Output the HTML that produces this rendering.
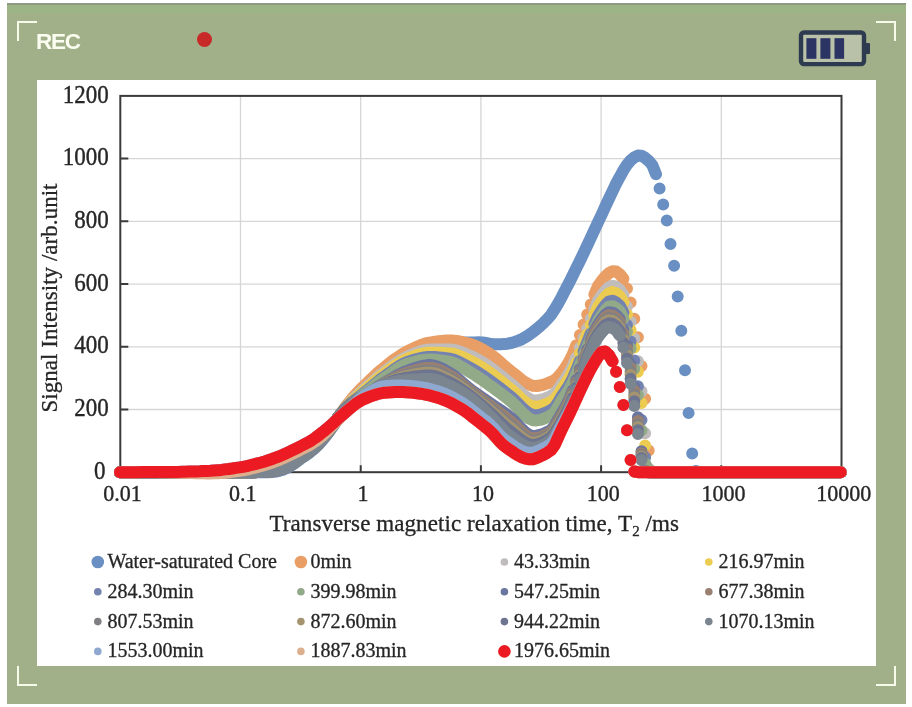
<!DOCTYPE html>
<html><head><meta charset="utf-8"><style>
html,body{margin:0;padding:0;background:#fff;}
body{width:912px;height:707px;position:relative;overflow:hidden;font-family:"Liberation Serif",serif;}
.frame{position:absolute;left:7px;top:3px;width:899px;height:701px;background:#a1b088;}
.chart{position:absolute;left:37px;top:80px;width:839px;height:586px;background:#fff;}
.br{position:absolute;width:18px;height:18px;box-sizing:content-box;border:0 solid #f7fbea;}
.rec{position:absolute;left:36px;top:28.5px;font-family:"Liberation Sans",sans-serif;font-weight:bold;font-size:22.5px;color:#fbfdf0;letter-spacing:-1.3px;}
.dot{position:absolute;left:197px;top:32px;width:15px;height:15px;border-radius:50%;background:#c82a2a;}
svg.plot{position:absolute;left:0;top:0;}
.tl{font-family:"Liberation Serif",serif;font-size:22px;fill:#262626;stroke:#262626;stroke-width:0.35px;}
.tly{font-family:"Liberation Serif",serif;font-size:23px;fill:#262626;stroke:#262626;stroke-width:0.35px;}
.at{font-family:"Liberation Serif",serif;font-size:23px;fill:#262626;stroke:#262626;stroke-width:0.3px;}
.sub{font-size:15px;}
.lg{font-family:"Liberation Serif",serif;font-size:20px;fill:#262626;stroke:#262626;stroke-width:0.3px;}
</style></head><body>
<div class="frame"></div>
<div style="position:absolute;left:7px;top:3px;width:899px;height:1.5px;background:#8f9a80;"></div>
<div style="position:absolute;left:7px;top:5px;width:899px;height:10px;background:linear-gradient(#9cb386,#9db486 70%,#a1b088);"></div>
<div class="chart"></div>
<div class="br" style="left:17px;top:21px;border-left-width:2px;border-top-width:2px;"></div>
<div class="br" style="left:876px;top:21px;border-right-width:2px;border-top-width:2px;"></div>
<div class="br" style="left:17px;top:666px;border-left-width:2px;border-bottom-width:2px;"></div>
<div class="br" style="left:876px;top:666px;border-right-width:2px;border-bottom-width:2px;"></div>
<div class="rec">REC</div>
<div class="dot"></div>
<svg style="position:absolute;left:796px;top:28px" width="80" height="42" viewBox="0 0 80 42">
<rect x="5" y="4.5" width="63" height="31.6" rx="3" fill="#b9c2a8" stroke="#2d3a4f" stroke-width="4.4"/>
<rect x="10.4" y="10.2" width="10" height="20.6" fill="#2b3462"/>
<rect x="24.4" y="10.2" width="10" height="20.6" fill="#2b3462"/>
<rect x="38.5" y="10.2" width="9.6" height="20.6" fill="#2b3462"/>
<rect x="69" y="15" width="5" height="11" rx="1" fill="#2d3a4f"/>
</svg>
<svg class="plot" width="912" height="707" viewBox="0 0 912 707"><path d="M240.5 95.9V472.2M360.7 95.9V472.2M480.9 95.9V472.2M601.1 95.9V472.2M721.3 95.9V472.2M120.3 409.5H841.5M120.3 346.8H841.5M120.3 284.1H841.5M120.3 221.3H841.5M120.3 158.6H841.5" stroke="#d6d6d6" stroke-width="1.3" fill="none"/><rect x="120.3" y="95.9" width="721.2" height="376.3" fill="none" stroke="#3a3a3a" stroke-width="2"/><path d="M120.3 409.5h8M120.3 346.8h8M120.3 284.1h8M120.3 221.3h8M120.3 158.6h8M240.5 472.2v-7M360.7 472.2v-7M480.9 472.2v-7M601.1 472.2v-7M721.3 472.2v-7" stroke="#3a3a3a" stroke-width="2" fill="none"/><path d="M120.0 472.2L123.6 472.2L127.2 472.2L130.9 472.2L134.5 472.2L138.1 472.2L141.7 472.2L145.4 472.2L149.0 472.2L152.6 472.2L156.2 472.2L159.8 472.2L163.5 472.2L167.1 472.2L170.7 472.2L174.3 472.2L177.9 472.2L181.6 472.2L185.2 472.2L188.8 472.2L192.4 472.2L196.1 472.2L199.7 472.2L203.3 472.2L206.9 472.2L210.5 472.2L214.2 472.2L217.8 472.2L221.4 472.2L225.0 472.2L228.6 472.2L232.3 472.2L235.9 472.2L239.5 472.2L243.1 472.2L246.8 472.2L250.4 472.2L254.0 472.2L257.6 472.2L261.2 472.2L264.9 472.2L268.5 472.2L272.1 472.1L275.7 471.6L279.3 470.8L283.0 469.7L286.6 468.1L290.2 466.2L293.8 463.8L297.5 461.1L301.1 458.5L304.7 456.0L308.3 453.5L311.9 450.6L315.6 447.4L319.2 443.9L322.8 439.8L326.4 435.3L330.0 430.4L333.7 425.3L337.3 419.9L340.9 414.7L344.5 409.6L348.2 404.8L351.8 400.5L355.4 396.5L359.0 392.9L362.6 389.3L366.3 385.8L369.9 382.3L373.5 378.9L377.1 375.6L380.7 372.4L384.4 369.3L388.0 366.4L391.6 363.5L395.2 360.7L398.9 358.0L402.5 355.6L406.1 353.5L409.7 351.6L413.3 349.8L417.0 348.2L420.6 346.6L424.2 345.4L427.8 344.4L431.4 343.8L435.1 343.2L438.7 342.8L442.3 342.4L445.9 342.1L449.6 342.0L453.2 342.1L456.8 342.2L460.4 342.4L464.0 342.5L467.7 342.5L471.3 342.4L474.9 342.4L478.5 342.3L482.2 342.4L485.8 343.0L489.4 343.7L493.0 344.2L496.6 344.3L500.3 344.2L503.9 344.1L507.5 343.7L511.1 343.0L514.7 341.9L518.4 340.6L522.0 339.1L525.6 337.1L529.2 334.7L532.9 332.0L536.5 329.1L540.1 326.1L543.7 322.8L547.3 319.1L551.0 314.8L554.6 309.4L558.2 303.4L561.8 296.8L565.4 289.8L569.1 282.7L572.7 275.5L576.3 268.2L579.9 260.8L583.6 253.2L587.2 245.4L590.8 237.7L594.4 230.0L598.0 222.3L601.7 214.5L605.3 206.6L608.9 198.9L612.5 191.2L616.1 183.7L619.8 176.9L623.4 170.3L627.0 164.8L630.6 160.4L634.3 157.4L637.9 155.6L641.5 155.7L645.1 157.8L648.7 160.8L652.4 165.3L656.0 174.2M659.6 188.6h0M663.2 204.5h0M666.8 220.6h0M670.5 244.1h0M674.1 265.8h0M677.7 296.6h0M681.3 330.7h0M685.0 370.2h0M688.6 413.0h0M692.2 453.6h0M695.8 471.1L699.4 472.2L703.1 472.2L706.7 472.2L710.3 472.2L713.9 472.2L717.5 472.2L721.2 472.2L724.8 472.2L728.4 472.2L732.0 472.2L735.7 472.2L739.3 472.2L742.9 472.2L746.5 472.2L750.1 472.2L753.8 472.2L757.4 472.2L761.0 472.2L764.6 472.2L768.2 472.2L771.9 472.2L775.5 472.2L779.1 472.2L782.7 472.2L786.4 472.2L790.0 472.2L793.6 472.2L797.2 472.2L800.8 472.2L804.5 472.2L808.1 472.2L811.7 472.2L815.3 472.2L818.9 472.2L822.6 472.2L826.2 472.2L829.8 472.2L833.4 472.2L837.1 472.2L840.7 472.2" stroke="#6a8fc2" stroke-width="12.0" stroke-linecap="round" stroke-linejoin="round" fill="none"/><path d="M120.0 472.2L123.6 472.2L127.2 472.2L130.9 472.2L134.5 472.2L138.1 472.2L141.7 472.2L145.4 472.2L149.0 472.2L152.6 472.2L156.2 472.2L159.8 472.2L163.5 472.2L167.1 472.2L170.7 472.2L174.3 472.2L177.9 472.2L181.6 472.2L185.2 472.2L188.8 472.2L192.4 472.2L196.1 472.2L199.7 472.2L203.3 472.2L206.9 472.2L210.5 472.2L214.2 472.2L217.8 472.2L221.4 472.2L225.0 472.2L228.6 472.2L232.3 472.2L235.9 472.2L239.5 472.2L243.1 472.2L246.8 472.2L250.4 472.2L254.0 472.2L257.6 472.1L261.2 472.0L264.9 471.8L268.5 471.6L272.1 471.3L275.7 470.6L279.3 469.8L283.0 468.6L286.6 467.1L290.2 465.2L293.8 462.8L297.5 460.1L301.1 457.5L304.7 455.0L308.3 452.5L311.9 449.6L315.6 446.4L319.2 442.9L322.8 438.8L326.4 434.3L330.0 429.4L333.7 424.3L337.3 419.0L340.9 413.7L344.5 408.4L348.2 403.4L351.8 398.9L355.4 394.8L359.0 391.0L362.6 387.3L366.3 383.8L369.9 380.3L373.5 376.8L377.1 373.5L380.7 370.3L384.4 367.3L388.0 364.4L391.6 361.6L395.2 358.9L398.9 356.4L402.5 354.0L406.1 352.0L409.7 350.1L413.3 348.4L417.0 346.7L420.6 345.2L424.2 343.9L427.8 342.9L431.4 342.3L435.1 341.7L438.7 341.3L442.3 340.9L445.9 340.6L449.6 340.5L453.2 340.6L456.8 341.0L460.4 341.7L464.0 342.5L467.7 343.4L471.3 344.4L474.9 345.7L478.5 347.3L482.2 349.3L485.8 351.4L489.4 353.6L493.0 356.1L496.6 359.0L500.3 362.3L503.9 365.5L507.5 368.6L511.1 371.3L514.7 374.2L518.4 377.2L522.0 380.1L525.6 382.6L529.2 384.6L532.9 385.8L536.5 386.0L540.1 385.5L543.7 384.6L547.3 383.4L551.0 381.9L554.6 380.1L558.2 376.8L561.8 372.5L565.4 367.7L569.1 361.7L572.7 354.4L576.3 345.3M579.9 335.0h0M583.6 324.4h0M587.2 314.6h0M590.8 304.5h0M594.4 294.5L598.0 286.1L601.7 280.9L605.3 276.5L608.9 273.1L612.5 271.2L616.1 271.5L619.8 274.3L623.4 278.8M627.0 288.6h0M630.6 302.6h0M634.3 318.7h0M637.9 337.3h0M641.5 366.0h0M645.1 398.7h0M648.7 450.5h0M652.4 471.6L656.0 472.2L659.6 472.2L663.2 472.2L666.8 472.2L670.5 472.2L674.1 472.2L677.7 472.2L681.3 472.2L685.0 472.2L688.6 472.2L692.2 472.2L695.8 472.2L699.4 472.2L703.1 472.2L706.7 472.2L710.3 472.2L713.9 472.2L717.5 472.2L721.2 472.2L724.8 472.2L728.4 472.2L732.0 472.2L735.7 472.2L739.3 472.2L742.9 472.2L746.5 472.2L750.1 472.2L753.8 472.2L757.4 472.2L761.0 472.2L764.6 472.2L768.2 472.2L771.9 472.2L775.5 472.2L779.1 472.2L782.7 472.2L786.4 472.2L790.0 472.2L793.6 472.2L797.2 472.2L800.8 472.2L804.5 472.2L808.1 472.2L811.7 472.2L815.3 472.2L818.9 472.2L822.6 472.2L826.2 472.2L829.8 472.2L833.4 472.2L837.1 472.2L840.7 472.2" stroke="#e89e64" stroke-width="12.0" stroke-linecap="round" stroke-linejoin="round" fill="none"/><path d="M120.0 472.2L123.6 472.2L127.2 472.2L130.9 472.2L134.5 472.2L138.1 472.2L141.7 472.2L145.4 472.2L149.0 472.2L152.6 472.2L156.2 472.2L159.8 472.2L163.5 472.2L167.1 472.2L170.7 472.2L174.3 472.2L177.9 472.2L181.6 472.2L185.2 472.2L188.8 472.2L192.4 472.2L196.1 472.2L199.7 472.2L203.3 472.2L206.9 472.2L210.5 472.2L214.2 472.2L217.8 472.2L221.4 472.2L225.0 472.2L228.6 472.2L232.3 472.2L235.9 472.2L239.5 472.2L243.1 472.2L246.8 472.2L250.4 472.2L254.0 472.2L257.6 472.1L261.2 472.0L264.9 471.8L268.5 471.6L272.1 471.3L275.7 470.6L279.3 469.8L283.0 468.6L286.6 467.1L290.2 465.2L293.8 462.8L297.5 460.1L301.1 457.5L304.7 455.0L308.3 452.5L311.9 449.6L315.6 446.4L319.2 442.9L322.8 438.8L326.4 434.3L330.0 429.4L333.7 424.2L337.3 418.8L340.9 413.8L344.5 409.1L348.2 404.7L351.8 400.8L355.4 397.2L359.0 393.8L362.6 390.6L366.3 387.3L369.9 384.1L373.5 380.9L377.1 377.7L380.7 374.7L384.4 371.9L388.0 369.1L391.6 366.4L395.2 363.7L398.9 361.2L402.5 359.0L406.1 357.1L409.7 355.6L413.3 354.0L417.0 352.6L420.6 351.3L424.2 350.3L427.8 349.8L431.4 349.6L435.1 349.6L438.7 349.6L442.3 349.5L445.9 349.5L449.6 349.5L453.2 349.8L456.8 350.6L460.4 351.8L464.0 353.2L467.7 354.8L471.3 356.3L474.9 358.0L478.5 360.0L482.2 362.1L485.8 364.4L489.4 366.8L493.0 369.4L496.6 372.2L500.3 375.2L503.9 378.2L507.5 381.2L511.1 384.0L514.7 387.1L518.4 390.4L522.0 393.7L525.6 396.6L529.2 398.9L532.9 400.3L536.5 400.4L540.1 399.9L543.7 399.0L547.3 397.6L551.0 395.9L554.6 393.7L558.2 389.5L561.8 384.2L565.4 379.1L569.1 373.3L572.7 366.3L576.3 357.5M579.9 347.8h0M583.6 337.8h0M587.2 328.4h0M590.8 318.8h0M594.4 309.1L598.0 300.9L601.7 295.4L605.3 290.8L608.9 287.2L612.5 285.7L616.1 286.8L619.8 289.9L623.4 295.0M627.0 306.6h0M630.6 321.7h0M634.3 338.6h0M637.9 361.3h0M641.5 391.3h0M645.1 433.2h0M648.7 468.5L652.4 472.2L656.0 472.2L659.6 472.2L663.2 472.2L666.8 472.2L670.5 472.2L674.1 472.2L677.7 472.2L681.3 472.2L685.0 472.2L688.6 472.2L692.2 472.2L695.8 472.2L699.4 472.2L703.1 472.2L706.7 472.2L710.3 472.2L713.9 472.2L717.5 472.2L721.2 472.2L724.8 472.2L728.4 472.2L732.0 472.2L735.7 472.2L739.3 472.2L742.9 472.2L746.5 472.2L750.1 472.2L753.8 472.2L757.4 472.2L761.0 472.2L764.6 472.2L768.2 472.2L771.9 472.2L775.5 472.2L779.1 472.2L782.7 472.2L786.4 472.2L790.0 472.2L793.6 472.2L797.2 472.2L800.8 472.2L804.5 472.2L808.1 472.2L811.7 472.2L815.3 472.2L818.9 472.2L822.6 472.2L826.2 472.2L829.8 472.2L833.4 472.2L837.1 472.2L840.7 472.2" stroke="#c0bcbc" stroke-width="12.0" stroke-linecap="round" stroke-linejoin="round" fill="none"/><path d="M120.0 472.2L123.6 472.2L127.2 472.2L130.9 472.2L134.5 472.2L138.1 472.2L141.7 472.2L145.4 472.2L149.0 472.2L152.6 472.2L156.2 472.2L159.8 472.2L163.5 472.2L167.1 472.2L170.7 472.2L174.3 472.2L177.9 472.2L181.6 472.2L185.2 472.2L188.8 472.2L192.4 472.2L196.1 472.2L199.7 472.2L203.3 472.2L206.9 472.2L210.5 472.2L214.2 472.2L217.8 472.2L221.4 472.2L225.0 472.2L228.6 472.2L232.3 472.2L235.9 472.2L239.5 472.2L243.1 472.2L246.8 472.2L250.4 472.2L254.0 472.2L257.6 472.1L261.2 472.0L264.9 471.8L268.5 471.6L272.1 471.3L275.7 470.6L279.3 469.8L283.0 468.6L286.6 467.1L290.2 465.2L293.8 462.8L297.5 460.1L301.1 457.5L304.7 455.0L308.3 452.5L311.9 449.6L315.6 446.4L319.2 442.9L322.8 438.8L326.4 434.3L330.0 429.4L333.7 424.2L337.3 418.8L340.9 413.8L344.5 409.4L348.2 405.3L351.8 401.6L355.4 398.3L359.0 395.1L362.6 392.0L366.3 388.8L369.9 385.7L373.5 382.6L377.1 379.5L380.7 376.6L384.4 373.8L388.0 371.1L391.6 368.4L395.2 365.8L398.9 363.3L402.5 361.1L406.1 359.4L409.7 357.9L413.3 356.5L417.0 355.2L420.6 354.1L424.2 353.3L427.8 352.8L431.4 352.7L435.1 352.8L438.7 352.8L442.3 353.0L445.9 353.2L449.6 353.4L453.2 353.8L456.8 354.9L460.4 356.3L464.0 358.0L467.7 359.7L471.3 361.4L474.9 363.3L478.5 365.4L482.2 367.7L485.8 370.0L489.4 372.5L493.0 375.0L496.6 377.8L500.3 380.7L503.9 383.7L507.5 386.6L511.1 389.4L514.7 392.6L518.4 396.0L522.0 399.5L525.6 402.6L529.2 405.0L532.9 406.4L536.5 406.6L540.1 406.1L543.7 405.1L547.3 403.7L551.0 401.9L554.6 399.6L558.2 394.9L561.8 389.2L565.4 384.0L569.1 378.4L572.7 371.4L576.3 362.8M579.9 353.3h0M583.6 343.6L587.2 334.4M590.8 324.9h0M594.4 315.4L598.0 307.2L601.7 301.7L605.3 296.9L608.9 293.3L612.5 292.0L616.1 293.4L619.8 296.6L623.4 302.2M627.0 314.3h0M630.6 329.9h0M634.3 347.6h0M637.9 371.8h0M641.5 403.0h0M645.1 445.5h0M648.7 470.7L652.4 472.2L656.0 472.2L659.6 472.2L663.2 472.2L666.8 472.2L670.5 472.2L674.1 472.2L677.7 472.2L681.3 472.2L685.0 472.2L688.6 472.2L692.2 472.2L695.8 472.2L699.4 472.2L703.1 472.2L706.7 472.2L710.3 472.2L713.9 472.2L717.5 472.2L721.2 472.2L724.8 472.2L728.4 472.2L732.0 472.2L735.7 472.2L739.3 472.2L742.9 472.2L746.5 472.2L750.1 472.2L753.8 472.2L757.4 472.2L761.0 472.2L764.6 472.2L768.2 472.2L771.9 472.2L775.5 472.2L779.1 472.2L782.7 472.2L786.4 472.2L790.0 472.2L793.6 472.2L797.2 472.2L800.8 472.2L804.5 472.2L808.1 472.2L811.7 472.2L815.3 472.2L818.9 472.2L822.6 472.2L826.2 472.2L829.8 472.2L833.4 472.2L837.1 472.2L840.7 472.2" stroke="#eccc50" stroke-width="12.0" stroke-linecap="round" stroke-linejoin="round" fill="none"/><path d="M120.0 472.2L123.6 472.2L127.2 472.2L130.9 472.2L134.5 472.2L138.1 472.2L141.7 472.2L145.4 472.2L149.0 472.2L152.6 472.2L156.2 472.2L159.8 472.2L163.5 472.2L167.1 472.2L170.7 472.2L174.3 472.2L177.9 472.2L181.6 472.2L185.2 472.2L188.8 472.2L192.4 472.2L196.1 472.2L199.7 472.2L203.3 472.2L206.9 472.2L210.5 472.2L214.2 472.2L217.8 472.2L221.4 472.2L225.0 472.2L228.6 472.2L232.3 472.2L235.9 472.2L239.5 472.2L243.1 472.2L246.8 472.2L250.4 472.2L254.0 472.2L257.6 472.1L261.2 472.0L264.9 471.8L268.5 471.6L272.1 471.3L275.7 470.6L279.3 469.8L283.0 468.6L286.6 467.1L290.2 465.2L293.8 462.8L297.5 460.1L301.1 457.5L304.7 455.0L308.3 452.5L311.9 449.6L315.6 446.4L319.2 442.9L322.8 438.8L326.4 434.3L330.0 429.4L333.7 424.1L337.3 418.7L340.9 413.9L344.5 409.8L348.2 406.2L351.8 402.8L355.4 399.7L359.0 396.8L362.6 393.9L366.3 391.0L369.9 388.0L373.5 385.0L377.1 382.1L380.7 379.2L384.4 376.5L388.0 373.9L391.6 371.3L395.2 368.7L398.9 366.2L402.5 364.1L406.1 362.4L409.7 361.2L413.3 360.1L417.0 359.0L420.6 358.1L424.2 357.4L427.8 357.0L431.4 357.0L435.1 357.1L438.7 357.4L442.3 357.7L445.9 358.2L449.6 358.7L453.2 359.5L456.8 360.8L460.4 362.6L464.0 364.5L467.7 366.5L471.3 368.5L474.9 370.6L478.5 372.9L482.2 375.3L485.8 377.8L489.4 380.3L493.0 382.9L496.6 385.6L500.3 388.4L503.9 391.2L507.5 394.1L511.1 396.9L514.7 400.2L518.4 403.9L522.0 407.6L525.6 410.9L529.2 413.5L532.9 415.1L536.5 415.3L540.1 414.7L543.7 413.6L547.3 412.1L551.0 410.2L554.6 407.7L558.2 402.3L561.8 396.1L565.4 390.9L569.1 385.4L572.7 378.5L576.3 370.1L579.9 360.9M583.6 351.6L587.2 342.6L590.8 333.4M594.4 324.1L598.0 316.0L601.7 310.3L605.3 305.2L608.9 301.6L612.5 300.8L616.1 302.5L619.8 305.7L623.4 312.5M627.0 325.1h0M630.6 341.4h0M634.3 360.6h0M637.9 386.3h0M641.5 420.0h0M645.1 457.3h0M648.7 471.6L652.4 472.2L656.0 472.2L659.6 472.2L663.2 472.2L666.8 472.2L670.5 472.2L674.1 472.2L677.7 472.2L681.3 472.2L685.0 472.2L688.6 472.2L692.2 472.2L695.8 472.2L699.4 472.2L703.1 472.2L706.7 472.2L710.3 472.2L713.9 472.2L717.5 472.2L721.2 472.2L724.8 472.2L728.4 472.2L732.0 472.2L735.7 472.2L739.3 472.2L742.9 472.2L746.5 472.2L750.1 472.2L753.8 472.2L757.4 472.2L761.0 472.2L764.6 472.2L768.2 472.2L771.9 472.2L775.5 472.2L779.1 472.2L782.7 472.2L786.4 472.2L790.0 472.2L793.6 472.2L797.2 472.2L800.8 472.2L804.5 472.2L808.1 472.2L811.7 472.2L815.3 472.2L818.9 472.2L822.6 472.2L826.2 472.2L829.8 472.2L833.4 472.2L837.1 472.2L840.7 472.2" stroke="#7482b0" stroke-width="12.0" stroke-linecap="round" stroke-linejoin="round" fill="none"/><path d="M120.0 472.2L123.6 472.2L127.2 472.2L130.9 472.2L134.5 472.2L138.1 472.2L141.7 472.2L145.4 472.2L149.0 472.2L152.6 472.2L156.2 472.2L159.8 472.2L163.5 472.2L167.1 472.2L170.7 472.2L174.3 472.2L177.9 472.2L181.6 472.2L185.2 472.2L188.8 472.2L192.4 472.2L196.1 472.2L199.7 472.2L203.3 472.2L206.9 472.2L210.5 472.2L214.2 472.2L217.8 472.2L221.4 472.2L225.0 472.2L228.6 472.2L232.3 472.2L235.9 472.2L239.5 472.2L243.1 472.2L246.8 472.2L250.4 472.2L254.0 472.2L257.6 472.1L261.2 472.0L264.9 471.8L268.5 471.6L272.1 471.3L275.7 470.6L279.3 469.8L283.0 468.6L286.6 467.1L290.2 465.2L293.8 462.8L297.5 460.1L301.1 457.5L304.7 455.0L308.3 452.5L311.9 449.6L315.6 446.4L319.2 442.9L322.8 438.8L326.4 434.3L330.0 429.4L333.7 424.1L337.3 418.6L340.9 413.9L344.5 410.1L348.2 406.7L351.8 403.5L355.4 400.5L359.0 397.8L362.6 395.0L366.3 392.2L369.9 389.3L373.5 386.4L377.1 383.6L380.7 380.8L384.4 378.1L388.0 375.6L391.6 373.0L395.2 370.4L398.9 367.9L402.5 365.9L406.1 364.3L409.7 363.2L413.3 362.2L417.0 361.2L420.6 360.5L424.2 359.9L427.8 359.6L431.4 359.5L435.1 359.7L438.7 360.1L442.3 360.6L445.9 361.2L449.6 361.9L453.2 362.9L456.8 364.4L460.4 366.3L464.0 368.4L467.7 370.6L471.3 372.8L474.9 375.0L478.5 377.4L482.2 379.9L485.8 382.5L489.4 385.1L493.0 387.7L496.6 390.3L500.3 393.0L503.9 395.8L507.5 398.6L511.1 401.4L514.7 404.8L518.4 408.6L522.0 412.4L525.6 415.9L529.2 418.6L532.9 420.2L536.5 420.4L540.1 419.9L543.7 418.8L547.3 417.2L551.0 415.2L554.6 412.5L558.2 406.7L561.8 400.3L565.4 395.0L569.1 389.6L572.7 382.8L576.3 374.5L579.9 365.6L583.6 356.4L587.2 347.6L590.8 338.5L594.4 329.3L598.0 321.3L601.7 315.5L605.3 310.3L608.9 306.7L612.5 306.2L616.1 308.0L619.8 311.2L623.4 318.8M627.0 331.8h0M630.6 348.4h0M634.3 368.7h0M637.9 395.1h0M641.5 430.2h0M645.1 463.4L648.7 472.0L652.4 472.2L656.0 472.2L659.6 472.2L663.2 472.2L666.8 472.2L670.5 472.2L674.1 472.2L677.7 472.2L681.3 472.2L685.0 472.2L688.6 472.2L692.2 472.2L695.8 472.2L699.4 472.2L703.1 472.2L706.7 472.2L710.3 472.2L713.9 472.2L717.5 472.2L721.2 472.2L724.8 472.2L728.4 472.2L732.0 472.2L735.7 472.2L739.3 472.2L742.9 472.2L746.5 472.2L750.1 472.2L753.8 472.2L757.4 472.2L761.0 472.2L764.6 472.2L768.2 472.2L771.9 472.2L775.5 472.2L779.1 472.2L782.7 472.2L786.4 472.2L790.0 472.2L793.6 472.2L797.2 472.2L800.8 472.2L804.5 472.2L808.1 472.2L811.7 472.2L815.3 472.2L818.9 472.2L822.6 472.2L826.2 472.2L829.8 472.2L833.4 472.2L837.1 472.2L840.7 472.2" stroke="#92aa88" stroke-width="12.0" stroke-linecap="round" stroke-linejoin="round" fill="none"/><path d="M120.0 472.2L123.6 472.2L127.2 472.2L130.9 472.2L134.5 472.2L138.1 472.2L141.7 472.2L145.4 472.2L149.0 472.2L152.6 472.2L156.2 472.2L159.8 472.2L163.5 472.2L167.1 472.2L170.7 472.2L174.3 472.2L177.9 472.2L181.6 472.2L185.2 472.2L188.8 472.2L192.4 472.2L196.1 472.2L199.7 472.2L203.3 472.2L206.9 472.2L210.5 472.2L214.2 472.2L217.8 472.2L221.4 472.2L225.0 472.2L228.6 472.2L232.3 472.2L235.9 472.2L239.5 472.2L243.1 472.2L246.8 472.2L250.4 472.2L254.0 472.2L257.6 472.1L261.2 472.0L264.9 471.8L268.5 471.6L272.1 471.3L275.7 470.6L279.3 469.8L283.0 468.6L286.6 467.1L290.2 465.2L293.8 462.8L297.5 460.1L301.1 457.5L304.7 455.0L308.3 452.5L311.9 449.6L315.6 446.4L319.2 442.9L322.8 438.8L326.4 434.3L330.0 429.4L333.7 424.2L337.3 418.7L340.9 413.9L344.5 409.4L348.2 405.6L351.8 402.7L355.4 400.6L359.0 398.7L362.6 396.8L366.3 394.6L369.9 392.3L373.5 389.9L377.1 387.5L380.7 385.2L384.4 383.0L388.0 380.8L391.6 378.7L395.2 376.6L398.9 374.6L402.5 372.8L406.1 371.3L409.7 370.0L413.3 368.7L417.0 367.5L420.6 366.4L424.2 365.6L427.8 365.1L431.4 365.1L435.1 365.8L438.7 367.1L442.3 368.8L445.9 370.8L449.6 372.8L453.2 375.0L456.8 377.7L460.4 380.8L464.0 384.1L467.7 387.2L471.3 390.0L474.9 392.6L478.5 395.1L482.2 397.6L485.8 400.1L489.4 402.6L493.0 405.1L496.6 407.6L500.3 410.0L503.9 412.5L507.5 415.1L511.1 417.9L514.7 421.4L518.4 425.3L522.0 429.2L525.6 432.6L529.2 435.0L532.9 436.0L536.5 435.7L540.1 434.9L543.7 433.7L547.3 432.0L551.0 430.0L554.6 425.8L558.2 419.2L561.8 413.0L565.4 406.9L569.1 399.7L572.7 390.5M576.3 380.0h0M579.9 369.1h0M583.6 358.8h0M587.2 349.4h0M590.8 340.1L594.4 331.5L598.0 324.9L601.7 319.5L605.3 314.8L608.9 312.2L612.5 312.6L616.1 315.0L619.8 319.2M623.4 329.9h0M627.0 345.1h0M630.6 363.9h0M634.3 386.8h0M637.9 417.2h0M641.5 451.3h0M645.1 471.1L648.7 472.2L652.4 472.2L656.0 472.2L659.6 472.2L663.2 472.2L666.8 472.2L670.5 472.2L674.1 472.2L677.7 472.2L681.3 472.2L685.0 472.2L688.6 472.2L692.2 472.2L695.8 472.2L699.4 472.2L703.1 472.2L706.7 472.2L710.3 472.2L713.9 472.2L717.5 472.2L721.2 472.2L724.8 472.2L728.4 472.2L732.0 472.2L735.7 472.2L739.3 472.2L742.9 472.2L746.5 472.2L750.1 472.2L753.8 472.2L757.4 472.2L761.0 472.2L764.6 472.2L768.2 472.2L771.9 472.2L775.5 472.2L779.1 472.2L782.7 472.2L786.4 472.2L790.0 472.2L793.6 472.2L797.2 472.2L800.8 472.2L804.5 472.2L808.1 472.2L811.7 472.2L815.3 472.2L818.9 472.2L822.6 472.2L826.2 472.2L829.8 472.2L833.4 472.2L837.1 472.2L840.7 472.2" stroke="#6a76a0" stroke-width="12.0" stroke-linecap="round" stroke-linejoin="round" fill="none"/><path d="M120.0 472.2L123.6 472.2L127.2 472.2L130.9 472.2L134.5 472.2L138.1 472.2L141.7 472.2L145.4 472.2L149.0 472.2L152.6 472.2L156.2 472.2L159.8 472.2L163.5 472.2L167.1 472.2L170.7 472.2L174.3 472.2L177.9 472.2L181.6 472.2L185.2 472.2L188.8 472.2L192.4 472.2L196.1 472.2L199.7 472.2L203.3 472.2L206.9 472.2L210.5 472.2L214.2 472.2L217.8 472.2L221.4 472.2L225.0 472.2L228.6 472.2L232.3 472.2L235.9 472.2L239.5 472.2L243.1 472.2L246.8 472.2L250.4 472.2L254.0 472.2L257.6 472.1L261.2 472.0L264.9 471.8L268.5 471.6L272.1 471.3L275.7 470.6L279.3 469.8L283.0 468.6L286.6 467.1L290.2 465.2L293.8 462.8L297.5 460.1L301.1 457.5L304.7 455.0L308.3 452.5L311.9 449.6L315.6 446.4L319.2 442.9L322.8 438.8L326.4 434.3L330.0 429.4L333.7 424.2L337.3 418.7L340.9 413.9L344.5 409.5L348.2 405.8L351.8 402.9L355.4 400.7L359.0 398.7L362.6 396.8L366.3 394.6L369.9 392.3L373.5 390.0L377.1 387.6L380.7 385.4L384.4 383.3L388.0 381.4L391.6 379.5L395.2 377.6L398.9 375.9L402.5 374.4L406.1 373.1L409.7 372.0L413.3 370.9L417.0 369.8L420.6 369.0L424.2 368.3L427.8 367.9L431.4 367.9L435.1 368.6L438.7 369.8L442.3 371.5L445.9 373.4L449.6 375.4L453.2 377.5L456.8 380.1L460.4 383.0L464.0 386.0L467.7 389.0L471.3 391.8L474.9 394.4L478.5 397.1L482.2 399.8L485.8 402.5L489.4 405.1L493.0 407.9L496.6 410.6L500.3 413.4L503.9 416.1L507.5 418.9L511.1 421.7L514.7 425.0L518.4 428.7L522.0 432.3L525.6 435.3L529.2 437.5L532.9 438.4L536.5 438.1L540.1 437.3L543.7 435.9L547.3 434.1L551.0 432.0L554.6 427.8L558.2 421.4L561.8 415.2L565.4 409.0L569.1 401.7L572.7 392.4M576.3 382.0h0M579.9 371.2h0M583.6 360.9L587.2 351.7M590.8 342.3L594.4 333.9L598.0 327.3L601.7 322.1L605.3 317.5L608.9 315.1L612.5 315.6L616.1 318.1L619.8 322.3M623.4 333.4h0M627.0 348.7h0M630.6 367.8h0M634.3 390.8h0M637.9 420.9h0M641.5 453.3h0M645.1 471.2L648.7 472.2L652.4 472.2L656.0 472.2L659.6 472.2L663.2 472.2L666.8 472.2L670.5 472.2L674.1 472.2L677.7 472.2L681.3 472.2L685.0 472.2L688.6 472.2L692.2 472.2L695.8 472.2L699.4 472.2L703.1 472.2L706.7 472.2L710.3 472.2L713.9 472.2L717.5 472.2L721.2 472.2L724.8 472.2L728.4 472.2L732.0 472.2L735.7 472.2L739.3 472.2L742.9 472.2L746.5 472.2L750.1 472.2L753.8 472.2L757.4 472.2L761.0 472.2L764.6 472.2L768.2 472.2L771.9 472.2L775.5 472.2L779.1 472.2L782.7 472.2L786.4 472.2L790.0 472.2L793.6 472.2L797.2 472.2L800.8 472.2L804.5 472.2L808.1 472.2L811.7 472.2L815.3 472.2L818.9 472.2L822.6 472.2L826.2 472.2L829.8 472.2L833.4 472.2L837.1 472.2L840.7 472.2" stroke="#9a8070" stroke-width="12.0" stroke-linecap="round" stroke-linejoin="round" fill="none"/><path d="M120.0 472.2L123.6 472.2L127.2 472.2L130.9 472.2L134.5 472.2L138.1 472.2L141.7 472.2L145.4 472.2L149.0 472.2L152.6 472.2L156.2 472.2L159.8 472.2L163.5 472.2L167.1 472.2L170.7 472.2L174.3 472.2L177.9 472.2L181.6 472.2L185.2 472.2L188.8 472.2L192.4 472.2L196.1 472.2L199.7 472.2L203.3 472.2L206.9 472.2L210.5 472.2L214.2 472.2L217.8 472.2L221.4 472.2L225.0 472.2L228.6 472.2L232.3 472.2L235.9 472.2L239.5 472.2L243.1 472.2L246.8 472.2L250.4 472.2L254.0 472.2L257.6 472.1L261.2 472.0L264.9 471.8L268.5 471.6L272.1 471.3L275.7 470.6L279.3 469.8L283.0 468.6L286.6 467.1L290.2 465.2L293.8 462.8L297.5 460.1L301.1 457.5L304.7 455.0L308.3 452.5L311.9 449.6L315.6 446.4L319.2 442.9L322.8 438.8L326.4 434.3L330.0 429.4L333.7 424.1L337.3 418.7L340.9 413.9L344.5 409.7L348.2 406.0L351.8 403.1L355.4 400.8L359.0 398.8L362.6 396.8L366.3 394.6L369.9 392.3L373.5 390.0L377.1 387.7L380.7 385.6L384.4 383.6L388.0 381.9L391.6 380.2L395.2 378.6L398.9 377.2L402.5 375.9L406.1 374.8L409.7 373.9L413.3 373.1L417.0 372.2L420.6 371.5L424.2 371.0L427.8 370.7L431.4 370.7L435.1 371.3L438.7 372.6L442.3 374.2L445.9 376.1L449.6 378.0L453.2 380.0L456.8 382.4L460.4 385.1L464.0 387.9L467.7 390.8L471.3 393.6L474.9 396.3L478.5 399.1L482.2 402.0L485.8 404.8L489.4 407.7L493.0 410.7L496.6 413.7L500.3 416.7L503.9 419.7L507.5 422.7L511.1 425.5L514.7 428.7L518.4 432.0L522.0 435.3L525.6 438.1L529.2 440.0L532.9 440.8L536.5 440.5L540.1 439.6L543.7 438.1L547.3 436.2L551.0 434.0L554.6 429.8L558.2 423.5L561.8 417.4L565.4 411.1L569.1 403.6L572.7 394.4M576.3 384.0h0M579.9 373.3h0M583.6 363.1L587.2 353.9L590.8 344.6L594.4 336.2L598.0 329.7L601.7 324.6L605.3 320.3L608.9 318.1L612.5 318.7L616.1 321.2L619.8 325.6M623.4 336.9h0M627.0 352.3h0M630.6 371.8h0M634.3 394.6h0M637.9 424.4h0M641.5 455.1h0M645.1 471.4L648.7 472.2L652.4 472.2L656.0 472.2L659.6 472.2L663.2 472.2L666.8 472.2L670.5 472.2L674.1 472.2L677.7 472.2L681.3 472.2L685.0 472.2L688.6 472.2L692.2 472.2L695.8 472.2L699.4 472.2L703.1 472.2L706.7 472.2L710.3 472.2L713.9 472.2L717.5 472.2L721.2 472.2L724.8 472.2L728.4 472.2L732.0 472.2L735.7 472.2L739.3 472.2L742.9 472.2L746.5 472.2L750.1 472.2L753.8 472.2L757.4 472.2L761.0 472.2L764.6 472.2L768.2 472.2L771.9 472.2L775.5 472.2L779.1 472.2L782.7 472.2L786.4 472.2L790.0 472.2L793.6 472.2L797.2 472.2L800.8 472.2L804.5 472.2L808.1 472.2L811.7 472.2L815.3 472.2L818.9 472.2L822.6 472.2L826.2 472.2L829.8 472.2L833.4 472.2L837.1 472.2L840.7 472.2" stroke="#808084" stroke-width="12.0" stroke-linecap="round" stroke-linejoin="round" fill="none"/><path d="M120.0 472.2L123.6 472.2L127.2 472.2L130.9 472.2L134.5 472.2L138.1 472.2L141.7 472.2L145.4 472.2L149.0 472.2L152.6 472.2L156.2 472.2L159.8 472.2L163.5 472.2L167.1 472.2L170.7 472.2L174.3 472.2L177.9 472.2L181.6 472.2L185.2 472.2L188.8 472.2L192.4 472.2L196.1 472.2L199.7 472.2L203.3 472.2L206.9 472.2L210.5 472.2L214.2 472.2L217.8 472.2L221.4 472.2L225.0 472.2L228.6 472.2L232.3 472.2L235.9 472.2L239.5 472.2L243.1 472.2L246.8 472.2L250.4 472.2L254.0 472.2L257.6 472.1L261.2 472.0L264.9 471.8L268.5 471.6L272.1 471.3L275.7 470.6L279.3 469.8L283.0 468.6L286.6 467.1L290.2 465.2L293.8 462.8L297.5 460.1L301.1 457.5L304.7 455.0L308.3 452.5L311.9 449.6L315.6 446.4L319.2 442.9L322.8 438.8L326.4 434.3L330.0 429.4L333.7 424.1L337.3 418.6L340.9 413.9L344.5 409.7L348.2 406.1L351.8 403.2L355.4 400.9L359.0 398.8L362.6 396.8L366.3 394.6L369.9 392.3L373.5 390.0L377.1 387.8L380.7 385.7L384.4 383.8L388.0 382.3L391.6 380.8L395.2 379.4L398.9 378.1L402.5 377.0L406.1 376.1L409.7 375.4L413.3 374.7L417.0 374.0L420.6 373.4L424.2 373.0L427.8 372.7L431.4 372.8L435.1 373.4L438.7 374.7L442.3 376.3L445.9 378.1L449.6 379.9L453.2 381.9L456.8 384.1L460.4 386.7L464.0 389.4L467.7 392.2L471.3 394.9L474.9 397.7L478.5 400.6L482.2 403.6L485.8 406.6L489.4 409.6L493.0 412.7L496.6 416.0L500.3 419.2L503.9 422.5L507.5 425.5L511.1 428.3L514.7 431.4L518.4 434.5L522.0 437.6L525.6 440.1L529.2 441.9L532.9 442.6L536.5 442.3L540.1 441.3L543.7 439.8L547.3 437.8L551.0 435.5L554.6 431.4L558.2 425.1L561.8 419.0L565.4 412.6L569.1 405.1L572.7 395.9M576.3 385.5h0M579.9 374.9h0M583.6 364.8L587.2 355.6L590.8 346.3L594.4 337.9L598.0 331.5L601.7 326.5L605.3 322.3L608.9 320.3L612.5 321.0L616.1 323.5L619.8 328.0M623.4 339.5h0M627.0 355.0h0M630.6 374.8h0M634.3 397.5h0M637.9 426.9h0M641.5 456.4h0M645.1 471.5L648.7 472.2L652.4 472.2L656.0 472.2L659.6 472.2L663.2 472.2L666.8 472.2L670.5 472.2L674.1 472.2L677.7 472.2L681.3 472.2L685.0 472.2L688.6 472.2L692.2 472.2L695.8 472.2L699.4 472.2L703.1 472.2L706.7 472.2L710.3 472.2L713.9 472.2L717.5 472.2L721.2 472.2L724.8 472.2L728.4 472.2L732.0 472.2L735.7 472.2L739.3 472.2L742.9 472.2L746.5 472.2L750.1 472.2L753.8 472.2L757.4 472.2L761.0 472.2L764.6 472.2L768.2 472.2L771.9 472.2L775.5 472.2L779.1 472.2L782.7 472.2L786.4 472.2L790.0 472.2L793.6 472.2L797.2 472.2L800.8 472.2L804.5 472.2L808.1 472.2L811.7 472.2L815.3 472.2L818.9 472.2L822.6 472.2L826.2 472.2L829.8 472.2L833.4 472.2L837.1 472.2L840.7 472.2" stroke="#a49470" stroke-width="12.0" stroke-linecap="round" stroke-linejoin="round" fill="none"/><path d="M120.0 472.2L123.6 472.2L127.2 472.2L130.9 472.2L134.5 472.2L138.1 472.2L141.7 472.2L145.4 472.2L149.0 472.2L152.6 472.2L156.2 472.2L159.8 472.2L163.5 472.2L167.1 472.2L170.7 472.2L174.3 472.2L177.9 472.2L181.6 472.2L185.2 472.2L188.8 472.2L192.4 472.2L196.1 472.2L199.7 472.2L203.3 472.2L206.9 472.2L210.5 472.2L214.2 472.2L217.8 472.2L221.4 472.2L225.0 472.2L228.6 472.2L232.3 472.2L235.9 472.2L239.5 472.2L243.1 472.2L246.8 472.2L250.4 472.2L254.0 472.2L257.6 472.1L261.2 472.0L264.9 471.8L268.5 471.6L272.1 471.3L275.7 470.6L279.3 469.8L283.0 468.6L286.6 467.1L290.2 465.2L293.8 462.8L297.5 460.1L301.1 457.5L304.7 455.0L308.3 452.5L311.9 449.6L315.6 446.4L319.2 442.9L322.8 438.8L326.4 434.3L330.0 429.4L333.7 424.1L337.3 418.6L340.9 413.9L344.5 409.8L348.2 406.3L351.8 403.4L355.4 401.0L359.0 398.9L362.6 396.8L366.3 394.6L369.9 392.3L373.5 390.0L377.1 387.8L380.7 385.8L384.4 384.1L388.0 382.8L391.6 381.5L395.2 380.4L398.9 379.4L402.5 378.6L406.1 377.9L409.7 377.4L413.3 376.8L417.0 376.4L420.6 376.0L424.2 375.7L427.8 375.5L431.4 375.6L435.1 376.2L438.7 377.4L442.3 379.0L445.9 380.8L449.6 382.5L453.2 384.4L456.8 386.5L460.4 388.9L464.0 391.4L467.7 394.0L471.3 396.7L474.9 399.6L478.5 402.6L482.2 405.8L485.8 409.0L489.4 412.2L493.0 415.5L496.6 419.1L500.3 422.6L503.9 426.1L507.5 429.3L511.1 432.1L514.7 434.9L518.4 437.9L522.0 440.6L525.6 442.8L529.2 444.4L532.9 445.0L536.5 444.6L540.1 443.6L543.7 442.0L547.3 439.9L551.0 437.5L554.6 433.4L558.2 427.3L561.8 421.2L565.4 414.7L569.1 407.1L572.7 397.9M576.3 387.6h0M579.9 377.0h0M583.6 366.9L587.2 357.8L590.8 348.5L594.4 340.2L598.0 333.9L601.7 329.1L605.3 325.1L608.9 323.3L612.5 324.0L616.1 326.5L619.8 331.2M623.4 343.0h0M627.0 358.6h0M630.6 378.8h0M634.3 401.3h0M637.9 430.2h0M641.5 458.0h0M645.1 471.6L648.7 472.2L652.4 472.2L656.0 472.2L659.6 472.2L663.2 472.2L666.8 472.2L670.5 472.2L674.1 472.2L677.7 472.2L681.3 472.2L685.0 472.2L688.6 472.2L692.2 472.2L695.8 472.2L699.4 472.2L703.1 472.2L706.7 472.2L710.3 472.2L713.9 472.2L717.5 472.2L721.2 472.2L724.8 472.2L728.4 472.2L732.0 472.2L735.7 472.2L739.3 472.2L742.9 472.2L746.5 472.2L750.1 472.2L753.8 472.2L757.4 472.2L761.0 472.2L764.6 472.2L768.2 472.2L771.9 472.2L775.5 472.2L779.1 472.2L782.7 472.2L786.4 472.2L790.0 472.2L793.6 472.2L797.2 472.2L800.8 472.2L804.5 472.2L808.1 472.2L811.7 472.2L815.3 472.2L818.9 472.2L822.6 472.2L826.2 472.2L829.8 472.2L833.4 472.2L837.1 472.2L840.7 472.2" stroke="#6c7490" stroke-width="12.0" stroke-linecap="round" stroke-linejoin="round" fill="none"/><path d="M120.0 472.2L123.6 472.2L127.2 472.2L130.9 472.2L134.5 472.2L138.1 472.2L141.7 472.2L145.4 472.2L149.0 472.2L152.6 472.2L156.2 472.2L159.8 472.2L163.5 472.2L167.1 472.2L170.7 472.2L174.3 472.2L177.9 472.2L181.6 472.2L185.2 472.2L188.8 472.2L192.4 472.2L196.1 472.2L199.7 472.2L203.3 472.2L206.9 472.2L210.5 472.2L214.2 472.2L217.8 472.2L221.4 472.2L225.0 472.2L228.6 472.2L232.3 472.2L235.9 472.2L239.5 472.2L243.1 472.2L246.8 472.2L250.4 472.2L254.0 472.2L257.6 472.1L261.2 472.0L264.9 471.8L268.5 471.6L272.1 471.3L275.7 470.6L279.3 469.8L283.0 468.6L286.6 467.1L290.2 465.2L293.8 462.8L297.5 460.1L301.1 457.5L304.7 455.0L308.3 452.5L311.9 449.6L315.6 446.4L319.2 442.9L322.8 438.8L326.4 434.3L330.0 429.4L333.7 424.1L337.3 418.6L340.9 413.9L344.5 410.0L348.2 406.5L351.8 403.6L355.4 401.2L359.0 398.9L362.6 396.8L366.3 394.6L369.9 392.3L373.5 390.1L377.1 387.9L380.7 386.0L384.4 384.5L388.0 383.5L391.6 382.5L395.2 381.7L398.9 381.0L402.5 380.5L406.1 380.1L409.7 379.8L413.3 379.6L417.0 379.4L420.6 379.2L424.2 379.1L427.8 379.0L431.4 379.1L435.1 379.7L438.7 380.9L442.3 382.4L445.9 384.1L449.6 385.8L453.2 387.5L456.8 389.4L460.4 391.6L464.0 393.9L467.7 396.3L471.3 399.0L474.9 401.9L478.5 405.1L482.2 408.5L485.8 411.9L489.4 415.4L493.0 419.0L496.6 422.9L500.3 426.9L503.9 430.7L507.5 434.1L511.1 436.8L514.7 439.4L518.4 441.9L522.0 444.3L525.6 446.2L529.2 447.5L532.9 448.0L536.5 447.6L540.1 446.5L543.7 444.7L547.3 442.5L551.0 440.0L554.6 435.9L558.2 430.0L561.8 423.9L565.4 417.3L569.1 409.6L572.7 400.4M576.3 390.1h0M579.9 379.6h0M583.6 369.7L587.2 360.6L590.8 351.3L594.4 343.1L598.0 337.0L601.7 332.3L605.3 328.6L608.9 327.0L612.5 327.9L616.1 330.3L619.8 335.4M623.4 347.4h0M627.0 363.0h0M630.6 383.8h0M634.3 405.9h0M637.9 434.0h0M641.5 459.9h0M645.1 471.7L648.7 472.2L652.4 472.2L656.0 472.2L659.6 472.2L663.2 472.2L666.8 472.2L670.5 472.2L674.1 472.2L677.7 472.2L681.3 472.2L685.0 472.2L688.6 472.2L692.2 472.2L695.8 472.2L699.4 472.2L703.1 472.2L706.7 472.2L710.3 472.2L713.9 472.2L717.5 472.2L721.2 472.2L724.8 472.2L728.4 472.2L732.0 472.2L735.7 472.2L739.3 472.2L742.9 472.2L746.5 472.2L750.1 472.2L753.8 472.2L757.4 472.2L761.0 472.2L764.6 472.2L768.2 472.2L771.9 472.2L775.5 472.2L779.1 472.2L782.7 472.2L786.4 472.2L790.0 472.2L793.6 472.2L797.2 472.2L800.8 472.2L804.5 472.2L808.1 472.2L811.7 472.2L815.3 472.2L818.9 472.2L822.6 472.2L826.2 472.2L829.8 472.2L833.4 472.2L837.1 472.2L840.7 472.2" stroke="#7a8590" stroke-width="12.0" stroke-linecap="round" stroke-linejoin="round" fill="none"/><path d="M120.0 472.2L123.6 472.2L127.2 472.2L130.9 472.2L134.5 472.2L138.1 472.2L141.7 472.1L145.4 472.1L149.0 472.1L152.6 472.1L156.2 472.1L159.8 472.0L163.5 472.0L167.1 472.0L170.7 471.9L174.3 471.9L177.9 471.9L181.6 471.8L185.2 471.7L188.8 471.6L192.4 471.5L196.1 471.4L199.7 471.3L203.3 471.1L206.9 471.0L210.5 470.8L214.2 470.5L217.8 470.2L221.4 469.9L225.0 469.4L228.6 469.0L232.3 468.5L235.9 467.9L239.5 467.4L243.1 466.8L246.8 466.1L250.4 465.2L254.0 464.4L257.6 463.4L261.2 462.5L264.9 461.4L268.5 460.2L272.1 459.0L275.7 457.7L279.3 456.3L283.0 454.8L286.6 453.1L290.2 451.4L293.8 449.6L297.5 447.8L301.1 446.0L304.7 444.2L308.3 442.3L311.9 440.1L315.6 437.6L319.2 434.9L322.8 432.1L326.4 429.1L330.0 426.0L333.7 422.7L337.3 419.4L340.9 416.2L344.5 413.1L348.2 409.9L351.8 406.5L355.4 403.0L359.0 399.9L362.6 396.9L366.3 394.5L369.9 392.2L373.5 390.2L377.1 388.4L380.7 387.0L384.4 386.3L388.0 386.0L391.6 385.8L395.2 385.6L398.9 385.5L402.5 385.5L406.1 385.7L409.7 385.9L413.3 386.3L417.0 386.7L420.6 387.2L424.2 387.8L427.8 388.5L431.4 389.4L435.1 390.5L438.7 391.6L442.3 392.8L445.9 394.2L449.6 395.9L453.2 397.7L456.8 399.7L460.4 401.7L464.0 404.1L467.7 406.6L471.3 409.4L474.9 412.3L478.5 415.2L482.2 418.1L485.8 420.9L489.4 424.0L493.0 427.5L496.6 431.6L500.3 435.7L503.9 439.2L507.5 441.8L511.1 444.3L514.7 446.8L518.4 449.0L522.0 450.9L525.6 452.2L529.2 452.8L532.9 452.7L536.5 451.5L540.1 449.9L543.7 448.2L547.3 446.3L551.0 444.0L554.6 439.7L558.2 432.4L561.8 425.3L565.4 418.8L569.1 412.2L572.7 405.4L576.3 398.2L579.9 390.9L583.6 383.2L587.2 375.6L590.8 368.7L594.4 362.4L598.0 356.8L601.7 351.9L605.3 351.6L608.9 355.1L612.5 361.3M616.1 371.8h0M619.8 387.1h0M623.4 404.9h0M627.0 430.2h0M630.6 459.9h0M634.3 471.5L637.9 472.2L641.5 472.2L645.1 472.2L648.7 472.2L652.4 472.2L656.0 472.2L659.6 472.2L663.2 472.2L666.8 472.2L670.5 472.2L674.1 472.2L677.7 472.2L681.3 472.2L685.0 472.2L688.6 472.2L692.2 472.2L695.8 472.2L699.4 472.2L703.1 472.2L706.7 472.2L710.3 472.2L713.9 472.2L717.5 472.2L721.2 472.2L724.8 472.2L728.4 472.2L732.0 472.2L735.7 472.2L739.3 472.2L742.9 472.2L746.5 472.2L750.1 472.2L753.8 472.2L757.4 472.2L761.0 472.2L764.6 472.2L768.2 472.2L771.9 472.2L775.5 472.2L779.1 472.2L782.7 472.2L786.4 472.2L790.0 472.2L793.6 472.2L797.2 472.2L800.8 472.2L804.5 472.2L808.1 472.2L811.7 472.2L815.3 472.2L818.9 472.2L822.6 472.2L826.2 472.2L829.8 472.2L833.4 472.2L837.1 472.2L840.7 472.2" stroke="#8ea8d0" stroke-width="12.0" stroke-linecap="round" stroke-linejoin="round" fill="none"/><path d="M120.0 472.2L123.6 472.2L127.2 472.2L130.9 472.2L134.5 472.2L138.1 472.2L141.7 472.1L145.4 472.1L149.0 472.1L152.6 472.1L156.2 472.1L159.8 472.2L163.5 472.2L167.1 472.3L170.7 472.4L174.3 472.5L177.9 472.7L181.6 472.8L185.2 472.9L188.8 473.0L192.4 473.1L196.1 473.2L199.7 473.3L203.3 473.3L206.9 473.4L210.5 473.4L214.2 473.3L217.8 473.2L221.4 473.0L225.0 472.7L228.6 472.3L232.3 471.9L235.9 471.4L239.5 470.9L243.1 470.3L246.8 469.6L250.4 468.7L254.0 467.9L257.6 466.9L261.2 466.0L264.9 464.9L268.5 463.7L272.1 462.5L275.7 461.2L279.3 459.8L283.0 458.3L286.6 456.6L290.2 454.9L293.8 453.1L297.5 451.3L301.1 449.5L304.7 447.7L308.3 445.8L311.9 443.6L315.6 441.1L319.2 438.4L322.8 435.5L326.4 432.0L330.0 428.2L333.7 424.2L337.3 420.2L340.9 416.5L344.5 413.1L348.2 410.0L351.8 407.0L355.4 404.1L359.0 401.7L362.6 399.6L366.3 398.1L369.9 396.7L373.5 395.4L377.1 394.2L380.7 393.3L384.4 392.7L388.0 392.5L391.6 392.3L395.2 392.1L398.9 392.0L402.5 392.0L406.1 392.2L409.7 392.4L413.3 392.8L417.0 393.2L420.6 393.7L424.2 394.3L427.8 395.0L431.4 395.9L435.1 397.0L438.7 398.1L442.3 399.3L445.9 400.7L449.6 402.4L453.2 404.2L456.8 406.2L460.4 408.2L464.0 410.6L467.7 413.1L471.3 415.9L474.9 418.8L478.5 421.7L482.2 424.6L485.8 427.4L489.4 430.5L493.0 434.0L496.6 438.1L500.3 442.2L503.9 445.7L507.5 448.3L511.1 450.8L514.7 453.3L518.4 455.5L522.0 457.4L525.6 458.7L529.2 459.3L532.9 459.2L536.5 458.0L540.1 456.4L543.7 454.7L547.3 452.7L551.0 450.1L554.6 445.2L558.2 437.2L561.8 429.3L565.4 422.0L569.1 414.5L572.7 406.9L576.3 399.0L579.9 391.1L583.6 383.2L587.2 375.6L590.8 368.7L594.4 362.4L598.0 356.8L601.7 351.9L605.3 351.6L608.9 355.1L612.5 361.3M616.1 371.8h0M619.8 387.1h0M623.4 404.9h0M627.0 430.2h0M630.6 459.9h0M634.3 471.5L637.9 472.2L641.5 472.2L645.1 472.2L648.7 472.2L652.4 472.2L656.0 472.2L659.6 472.2L663.2 472.2L666.8 472.2L670.5 472.2L674.1 472.2L677.7 472.2L681.3 472.2L685.0 472.2L688.6 472.2L692.2 472.2L695.8 472.2L699.4 472.2L703.1 472.2L706.7 472.2L710.3 472.2L713.9 472.2L717.5 472.2L721.2 472.2L724.8 472.2L728.4 472.2L732.0 472.2L735.7 472.2L739.3 472.2L742.9 472.2L746.5 472.2L750.1 472.2L753.8 472.2L757.4 472.2L761.0 472.2L764.6 472.2L768.2 472.2L771.9 472.2L775.5 472.2L779.1 472.2L782.7 472.2L786.4 472.2L790.0 472.2L793.6 472.2L797.2 472.2L800.8 472.2L804.5 472.2L808.1 472.2L811.7 472.2L815.3 472.2L818.9 472.2L822.6 472.2L826.2 472.2L829.8 472.2L833.4 472.2L837.1 472.2L840.7 472.2" stroke="#dcb08e" stroke-width="12.0" stroke-linecap="round" stroke-linejoin="round" fill="none"/><path d="M120.0 472.2L123.6 472.2L127.2 472.2L130.9 472.2L134.5 472.2L138.1 472.2L141.7 472.1L145.4 472.1L149.0 472.1L152.6 472.1L156.2 472.1L159.8 472.0L163.5 472.0L167.1 472.0L170.7 471.9L174.3 471.9L177.9 471.9L181.6 471.8L185.2 471.7L188.8 471.6L192.4 471.5L196.1 471.4L199.7 471.3L203.3 471.1L206.9 471.0L210.5 470.8L214.2 470.5L217.8 470.2L221.4 469.9L225.0 469.4L228.6 469.0L232.3 468.5L235.9 467.9L239.5 467.4L243.1 466.8L246.8 466.1L250.4 465.2L254.0 464.4L257.6 463.4L261.2 462.5L264.9 461.4L268.5 460.2L272.1 459.0L275.7 457.7L279.3 456.3L283.0 454.8L286.6 453.1L290.2 451.4L293.8 449.6L297.5 447.8L301.1 446.0L304.7 444.2L308.3 442.3L311.9 440.1L315.6 437.6L319.2 434.9L322.8 432.1L326.4 429.1L330.0 426.0L333.7 422.7L337.3 419.4L340.9 416.2L344.5 413.1L348.2 410.0L351.8 407.0L355.4 404.1L359.0 401.7L362.6 399.6L366.3 398.1L369.9 396.7L373.5 395.4L377.1 394.2L380.7 393.3L384.4 392.7L388.0 392.5L391.6 392.3L395.2 392.1L398.9 392.0L402.5 392.0L406.1 392.2L409.7 392.4L413.3 392.8L417.0 393.2L420.6 393.7L424.2 394.3L427.8 395.0L431.4 395.9L435.1 397.0L438.7 398.1L442.3 399.3L445.9 400.7L449.6 402.4L453.2 404.2L456.8 406.2L460.4 408.2L464.0 410.6L467.7 413.1L471.3 415.9L474.9 418.8L478.5 421.7L482.2 424.6L485.8 427.4L489.4 430.5L493.0 434.0L496.6 438.1L500.3 442.2L503.9 445.7L507.5 448.3L511.1 450.8L514.7 453.3L518.4 455.5L522.0 457.4L525.6 458.7L529.2 459.3L532.9 459.2L536.5 458.0L540.1 456.4L543.7 454.7L547.3 452.7L551.0 450.1L554.6 445.2L558.2 437.2L561.8 429.3L565.4 422.0L569.1 414.5L572.7 406.9L576.3 399.0L579.9 391.1L583.6 383.2L587.2 375.6L590.8 368.7L594.4 362.4L598.0 356.8L601.7 351.9L605.3 351.6L608.9 355.1L612.5 361.3M616.1 371.8h0M619.8 387.1h0M623.4 404.9h0M627.0 430.2h0M630.6 459.9h0M634.3 471.5L637.9 472.2L641.5 472.2L645.1 472.2L648.7 472.2L652.4 472.2L656.0 472.2L659.6 472.2L663.2 472.2L666.8 472.2L670.5 472.2L674.1 472.2L677.7 472.2L681.3 472.2L685.0 472.2L688.6 472.2L692.2 472.2L695.8 472.2L699.4 472.2L703.1 472.2L706.7 472.2L710.3 472.2L713.9 472.2L717.5 472.2L721.2 472.2L724.8 472.2L728.4 472.2L732.0 472.2L735.7 472.2L739.3 472.2L742.9 472.2L746.5 472.2L750.1 472.2L753.8 472.2L757.4 472.2L761.0 472.2L764.6 472.2L768.2 472.2L771.9 472.2L775.5 472.2L779.1 472.2L782.7 472.2L786.4 472.2L790.0 472.2L793.6 472.2L797.2 472.2L800.8 472.2L804.5 472.2L808.1 472.2L811.7 472.2L815.3 472.2L818.9 472.2L822.6 472.2L826.2 472.2L829.8 472.2L833.4 472.2L837.1 472.2L840.7 472.2" stroke="#ec1b23" stroke-width="12.0" stroke-linecap="round" stroke-linejoin="round" fill="none"/><text transform="translate(105.5 478.8) scale(1 1.07)" text-anchor="end" class="tly">0</text><text transform="translate(108.8 416.1) scale(1 1.07)" text-anchor="end" class="tly">200</text><text transform="translate(108.8 353.4) scale(1 1.07)" text-anchor="end" class="tly">400</text><text transform="translate(108.8 290.7) scale(1 1.07)" text-anchor="end" class="tly">600</text><text transform="translate(108.8 227.9) scale(1 1.07)" text-anchor="end" class="tly">800</text><text transform="translate(108.8 165.2) scale(1 1.07)" text-anchor="end" class="tly">1000</text><text transform="translate(108.8 102.5) scale(1 1.07)" text-anchor="end" class="tly">1200</text><text transform="translate(122.5 501.3) scale(1 1.09)" text-anchor="middle" class="tl">0.01</text><text transform="translate(242.7 501.3) scale(1 1.09)" text-anchor="middle" class="tl">0.1</text><text transform="translate(362.9 501.3) scale(1 1.09)" text-anchor="middle" class="tl">1</text><text transform="translate(483.1 501.3) scale(1 1.09)" text-anchor="middle" class="tl">10</text><text transform="translate(603.3 501.3) scale(1 1.09)" text-anchor="middle" class="tl">100</text><text transform="translate(723.5 501.3) scale(1 1.09)" text-anchor="middle" class="tl">1000</text><text transform="translate(843.7 501.3) scale(1 1.09)" text-anchor="middle" class="tl">10000</text><text x="269.5" y="531" class="at" textLength="409.5" lengthAdjust="spacing">Transverse magnetic relaxation time, T<tspan class="sub" dy="5">2</tspan><tspan dy="-5"> /ms</tspan></text><text transform="translate(56.6 412.5) rotate(-90)" class="at" textLength="229" lengthAdjust="spacing">Signal Intensity /arb.unit</text><circle cx="97.8" cy="562.0" r="6.3" fill="#6a8fc2"/><text x="107.4" y="568.0" class="lg">Water-saturated Core</text><circle cx="300.9" cy="562.0" r="6.3" fill="#e89e64"/><text x="310.5" y="568.0" class="lg">0min</text><circle cx="504.4" cy="562.0" r="3.8" fill="#c0bcbc"/><text x="514.0" y="568.0" class="lg">43.33min</text><circle cx="708.8" cy="562.0" r="3.8" fill="#eccc50"/><text x="718.4" y="568.0" class="lg">216.97min</text><circle cx="97.8" cy="591.8" r="3.8" fill="#7482b0"/><text x="107.4" y="597.8" class="lg">284.30min</text><circle cx="300.9" cy="591.8" r="3.8" fill="#92aa88"/><text x="310.5" y="597.8" class="lg">399.98min</text><circle cx="504.4" cy="591.8" r="3.8" fill="#6a76a0"/><text x="514.0" y="597.8" class="lg">547.25min</text><circle cx="708.8" cy="591.8" r="3.8" fill="#9a8070"/><text x="718.4" y="597.8" class="lg">677.38min</text><circle cx="97.8" cy="621.6" r="3.8" fill="#808084"/><text x="107.4" y="627.6" class="lg">807.53min</text><circle cx="300.9" cy="621.6" r="3.8" fill="#a49470"/><text x="310.5" y="627.6" class="lg">872.60min</text><circle cx="504.4" cy="621.6" r="3.8" fill="#6c7490"/><text x="514.0" y="627.6" class="lg">944.22min</text><circle cx="708.8" cy="621.6" r="3.8" fill="#7a8590"/><text x="718.4" y="627.6" class="lg">1070.13min</text><circle cx="97.8" cy="651.4" r="3.8" fill="#8ea8d0"/><text x="107.4" y="657.4" class="lg">1553.00min</text><circle cx="300.9" cy="651.4" r="3.8" fill="#dcb08e"/><text x="310.5" y="657.4" class="lg">1887.83min</text><circle cx="504.4" cy="651.4" r="6.3" fill="#ec1b23"/><text x="514.0" y="657.4" class="lg">1976.65min</text></svg>
</body></html>
